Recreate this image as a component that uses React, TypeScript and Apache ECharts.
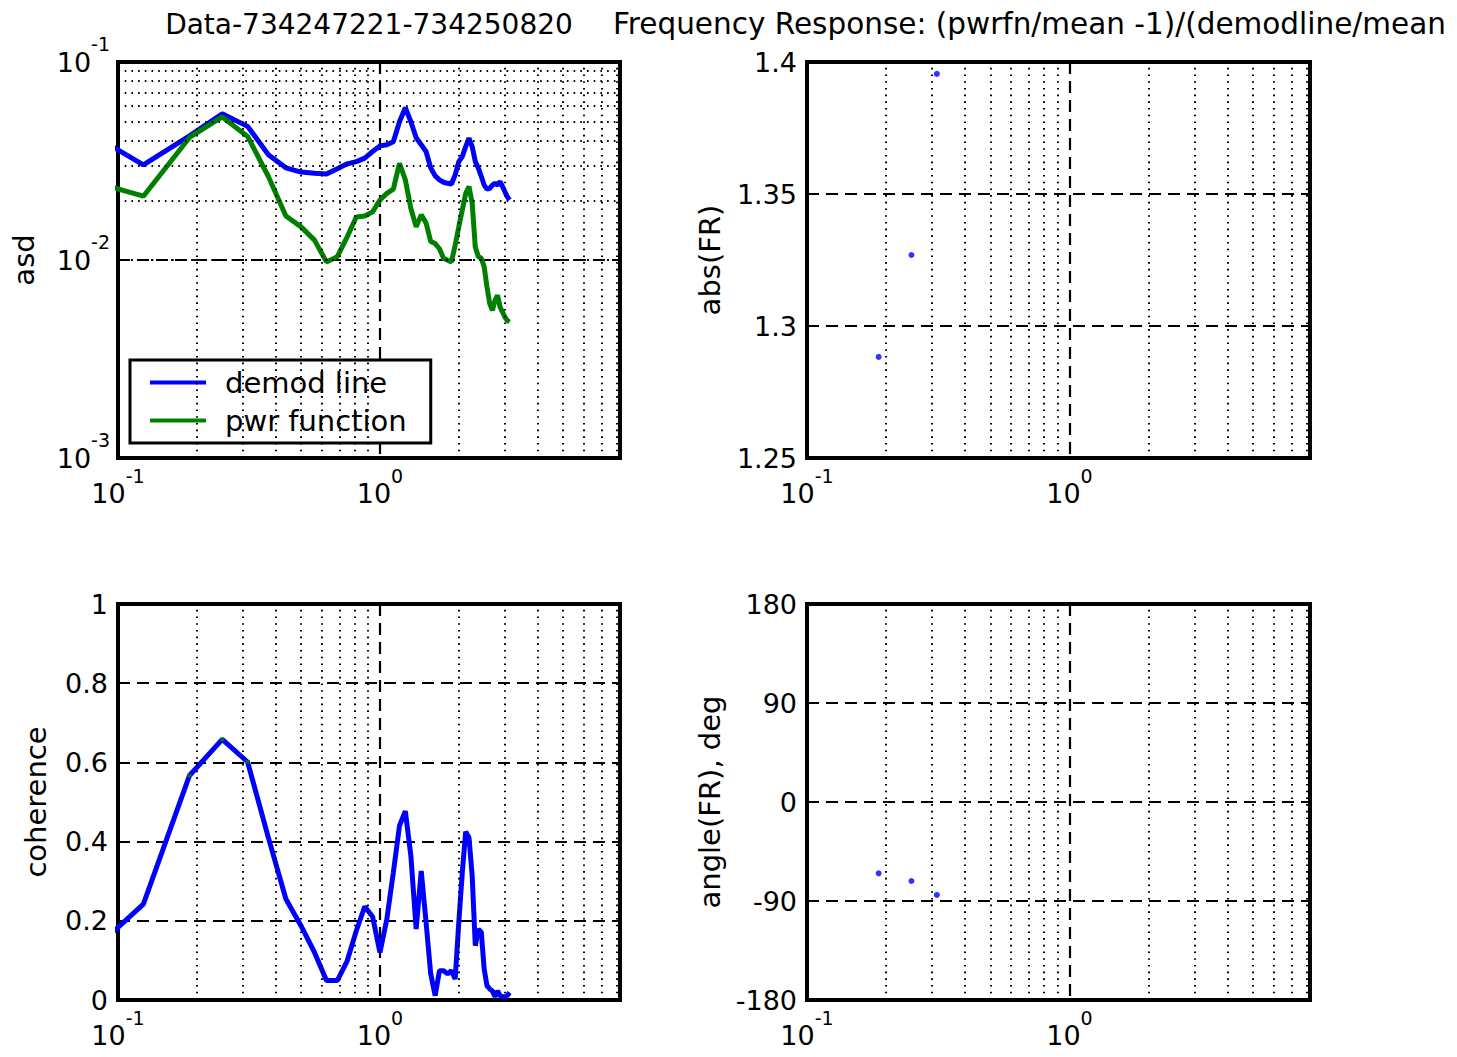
import React, { useEffect, useRef } from 'react';
import * as echarts from 'echarts';

const FONT = '"DejaVu Sans", sans-serif';

const titleLeft = 'Data-734247221-734250820';
const titleRight = 'Frequency Response: (pwrfn/mean -1)/(demodline/mean';

const freq = [
  0.0625, 0.125, 0.1875, 0.25, 0.3125, 0.375, 0.4375, 0.5, 0.5625, 0.625,
  0.6875, 0.75, 0.8125, 0.875, 0.9375, 1, 1.0625, 1.125, 1.1875, 1.25,
  1.3125, 1.375, 1.4375, 1.5, 1.5625, 1.625, 1.6875, 1.75, 1.8125, 1.875,
  1.9375, 2, 2.0625, 2.125, 2.1875, 2.25, 2.3125, 2.375, 2.4375, 2.5,
  2.5625, 2.625, 2.6875, 2.75, 2.8125, 2.875, 2.9375, 3, 3.0625, 3.125,
];

const demodLine = [
  0.0521, 0.0302, 0.0424, 0.0548, 0.0473, 0.034, 0.0292, 0.0278, 0.0274, 0.0272,
  0.0289, 0.0306, 0.0314, 0.0327, 0.0353, 0.0377, 0.0382, 0.0396, 0.0499, 0.0588,
  0.0499, 0.0414, 0.0382, 0.0353, 0.0292, 0.0266, 0.0254, 0.0247, 0.0244, 0.0242,
  0.0269, 0.0314, 0.0333, 0.0374, 0.0413, 0.0374, 0.0314, 0.0291, 0.0264, 0.0239,
  0.0228, 0.023, 0.0239, 0.0244, 0.0239, 0.0249, 0.0235, 0.0221, 0.0209, 0.0201,
];

const pwrFunction = [
  0.0272, 0.021, 0.0416, 0.0528, 0.0421, 0.0264, 0.0167, 0.0147, 0.0126, 0.00978,
  0.0104, 0.0131, 0.0165, 0.0167, 0.0175, 0.0201, 0.0217, 0.0228, 0.0308, 0.0254,
  0.0182, 0.0147, 0.0169, 0.0154, 0.0124, 0.0121, 0.0114, 0.0102, 0.00998, 0.00978,
  0.0119, 0.0147, 0.0179, 0.0217, 0.0235, 0.0193, 0.0116, 0.0104, 0.0102, 0.00923,
  0.00731, 0.00602, 0.00557, 0.00625, 0.00663, 0.00578, 0.00546, 0.00515, 0.00495, 0.00486,
];

const coherence = [
  0.06, 0.242, 0.567, 0.658, 0.601, 0.41, 0.255, 0.187, 0.12, 0.049,
  0.049, 0.099, 0.175, 0.236, 0.21, 0.12, 0.204, 0.322, 0.44, 0.477,
  0.364, 0.179, 0.326, 0.196, 0.066, 0.011, 0.074, 0.074, 0.066, 0.074,
  0.053, 0.196, 0.322, 0.425, 0.41, 0.313, 0.137, 0.179, 0.171, 0.078,
  0.036, 0.028, 0.023, 0.008, 0.023, 0.011, 0.008, 0.008, 0.011, 0.019,
];

const frFreq = [0.1875, 0.25, 0.3125];
const frAbs = [1.2883, 1.3269, 1.3955];
const frAngle = [-64.8, -71.8, -84.5];

const xMinorTicks = [0.2, 0.3, 0.4, 0.5, 0.6, 0.7, 0.8, 0.9, 2, 3, 4, 5, 6, 7, 8];
const yMinorTicksAsd = [
  0.002, 0.003, 0.004, 0.005, 0.006, 0.007, 0.008, 0.009,
  0.02, 0.03, 0.04, 0.05, 0.06, 0.07, 0.08, 0.09,
];

const BLUE = '#0000ff';
const GREEN = '#008000';
const TICK_FS = 27;
const LABEL_FS = 29;

const dashed = { color: '#000', width: 2.2, type: [12, 7] as any };
const dotted = { color: '#000', width: 2, type: [1.6, 5.1] as any };

const powRich = {
  b: { fontSize: TICK_FS, fontFamily: FONT, color: '#000' },
  s: { fontSize: 19, fontFamily: FONT, color: '#000', padding: [0, 0, 36, 0] },
};

const powFormatter = (v: number) => {
  const l = Math.log10(v);
  const e = Math.round(l);
  if (Math.abs(l - e) > 1e-6) return '';
  return `{b|10}{s|${e}}`;
};

function logXAxis(gridIndex: number) {
  return {
    type: 'log',
    logBase: 10,
    gridIndex,
    min: 0.1,
    max: 8.25,
    axisLine: { show: false },
    axisTick: { show: false },
    splitLine: { show: true, lineStyle: dashed },
    axisLabel: {
      formatter: powFormatter,
      rich: powRich,
      margin: 8,
      showMaxLabel: false,
    },
  };
}

function yName(name: string, gap: number) {
  return {
    name,
    nameLocation: 'middle',
    nameRotate: 90,
    nameGap: gap,
    nameTextStyle: { fontSize: LABEL_FS, fontFamily: FONT, color: '#000' },
  };
}

const valueLabel = { fontSize: TICK_FS, fontFamily: FONT, color: '#000', margin: 10 };

function minorSeries(xi: number, yVals: number[] | null) {
  const data: any[] = xMinorTicks.map((v) => ({ xAxis: v }));
  if (yVals) yVals.forEach((v) => data.push({ yAxis: v }));
  return {
    type: 'line',
    name: 'minor' + xi,
    xAxisIndex: xi,
    yAxisIndex: xi,
    data: [],
    silent: true,
    z: 1,
    markLine: {
      silent: true,
      symbol: ['none', 'none'],
      label: { show: false },
      lineStyle: dotted,
      emphasis: { disabled: true },
      data,
    },
  };
}

export default function App() {
  const ref = useRef<HTMLDivElement>(null);

  useEffect(() => {
    if (!ref.current) return;
    const chart = echarts.init(ref.current, null, { renderer: 'svg' });
    const gridBase = { show: true, borderColor: '#000', borderWidth: 4, backgroundColor: '#fff' };

    const option: any = {
      animation: false,
      backgroundColor: '#fff',
      textStyle: { fontFamily: FONT },
      grid: [
        { ...gridBase, left: 118, top: 62, width: 502, height: 396 },
        { ...gridBase, left: 807, top: 62, width: 503, height: 396 },
        { ...gridBase, left: 118, top: 604, width: 502, height: 396 },
        { ...gridBase, left: 807, top: 604, width: 503, height: 396 },
      ],
      xAxis: [logXAxis(0), logXAxis(1), logXAxis(2), logXAxis(3)],
      yAxis: [
        {
          type: 'log',
          logBase: 10,
          gridIndex: 0,
          min: 0.001,
          max: 0.1,
          axisLine: { show: false },
          axisTick: { show: false },
          splitLine: { show: true, lineStyle: dashed },
          axisLabel: { formatter: powFormatter, rich: powRich, margin: 8 },
          ...yName('asd', 80),
        },
        {
          type: 'value',
          gridIndex: 1,
          min: 1.25,
          max: 1.4,
          interval: 0.05,
          axisLine: { show: false },
          axisTick: { show: false },
          splitLine: { show: true, lineStyle: dashed },
          axisLabel: valueLabel,
          ...yName('abs(FR)', 83),
        },
        {
          type: 'value',
          gridIndex: 2,
          min: 0,
          max: 1,
          interval: 0.2,
          axisLine: { show: false },
          axisTick: { show: false },
          splitLine: { show: true, lineStyle: dashed },
          axisLabel: valueLabel,
          ...yName('coherence', 68),
        },
        {
          type: 'value',
          gridIndex: 3,
          min: -180,
          max: 180,
          interval: 90,
          axisLine: { show: false },
          axisTick: { show: false },
          splitLine: { show: true, lineStyle: dashed },
          axisLabel: valueLabel,
          ...yName('angle(FR), deg', 83),
        },
      ],
      legend: {
        data: ['demod line', 'pwr function'],
        left: 130,
        top: 360,
        orient: 'vertical',
        icon: 'rect',
        itemWidth: 56,
        itemHeight: 4,
        itemGap: 9,
        padding: [8, 24, 8, 20],
        backgroundColor: '#fff',
        borderColor: '#000',
        borderWidth: 3,
        borderRadius: 0,
        selectedMode: false,
        textStyle: { fontFamily: FONT, fontSize: LABEL_FS, color: '#000', padding: [0, 0, 0, 14] },
      },
      graphic: [
        {
          type: 'text',
          x: 369,
          y: 24,
          style: {
            text: titleLeft,
            fill: '#000',
            fontSize: 28,
            fontFamily: FONT,
            align: 'center',
            verticalAlign: 'middle',
            textAlign: 'center',
            textVerticalAlign: 'middle',
          },
        },
        {
          type: 'text',
          x: 613,
          y: 24,
          style: {
            text: titleRight,
            fill: '#000',
            fontSize: 29.5,
            fontFamily: FONT,
            align: 'left',
            verticalAlign: 'middle',
            textAlign: 'left',
            textVerticalAlign: 'middle',
          },
        },
      ],
      series: [
        minorSeries(0, yMinorTicksAsd),
        minorSeries(1, null),
        minorSeries(2, null),
        minorSeries(3, null),
        {
          type: 'line',
          name: 'demod line',
          xAxisIndex: 0,
          yAxisIndex: 0,
          data: freq.map((f, i) => [f, demodLine[i]]),
          showSymbol: false,
          symbol: 'none',
          color: BLUE,
          lineStyle: { width: 5, color: BLUE },
          itemStyle: { color: BLUE },
          clip: true,
          z: 3,
        },
        {
          type: 'line',
          name: 'pwr function',
          xAxisIndex: 0,
          yAxisIndex: 0,
          data: freq.map((f, i) => [f, pwrFunction[i]]),
          showSymbol: false,
          symbol: 'none',
          color: GREEN,
          lineStyle: { width: 5, color: GREEN },
          itemStyle: { color: GREEN },
          clip: true,
          z: 3,
        },
        {
          type: 'scatter',
          name: 'abs FR',
          xAxisIndex: 1,
          yAxisIndex: 1,
          data: frFreq.map((f, i) => [f, frAbs[i]]),
          symbol: 'circle',
          symbolSize: 6,
          itemStyle: { color: BLUE },
          z: 3,
        },
        {
          type: 'line',
          name: 'coherence',
          xAxisIndex: 2,
          yAxisIndex: 2,
          data: freq.map((f, i) => [f, coherence[i]]),
          showSymbol: false,
          symbol: 'none',
          color: BLUE,
          lineStyle: { width: 5, color: BLUE },
          itemStyle: { color: BLUE },
          clip: true,
          z: 3,
        },
        {
          type: 'scatter',
          name: 'coherence high',
          xAxisIndex: 2,
          yAxisIndex: 2,
          data: frFreq.map((f) => [f, coherence[freq.indexOf(f)]]),
          symbol: 'rect',
          symbolSize: 4,
          itemStyle: { color: GREEN },
          z: 4,
        },
        {
          type: 'scatter',
          name: 'angle FR',
          xAxisIndex: 3,
          yAxisIndex: 3,
          data: frFreq.map((f, i) => [f, frAngle[i]]),
          symbol: 'circle',
          symbolSize: 6,
          itemStyle: { color: BLUE },
          z: 3,
        },
      ],
    };

    chart.setOption(option);
    return () => chart.dispose();
  }, []);

  return (
    <div
      ref={ref}
      style={{ position: 'absolute', left: 0, top: 0, width: 1457, height: 1057, background: '#fff' }}
    />
  );
}
